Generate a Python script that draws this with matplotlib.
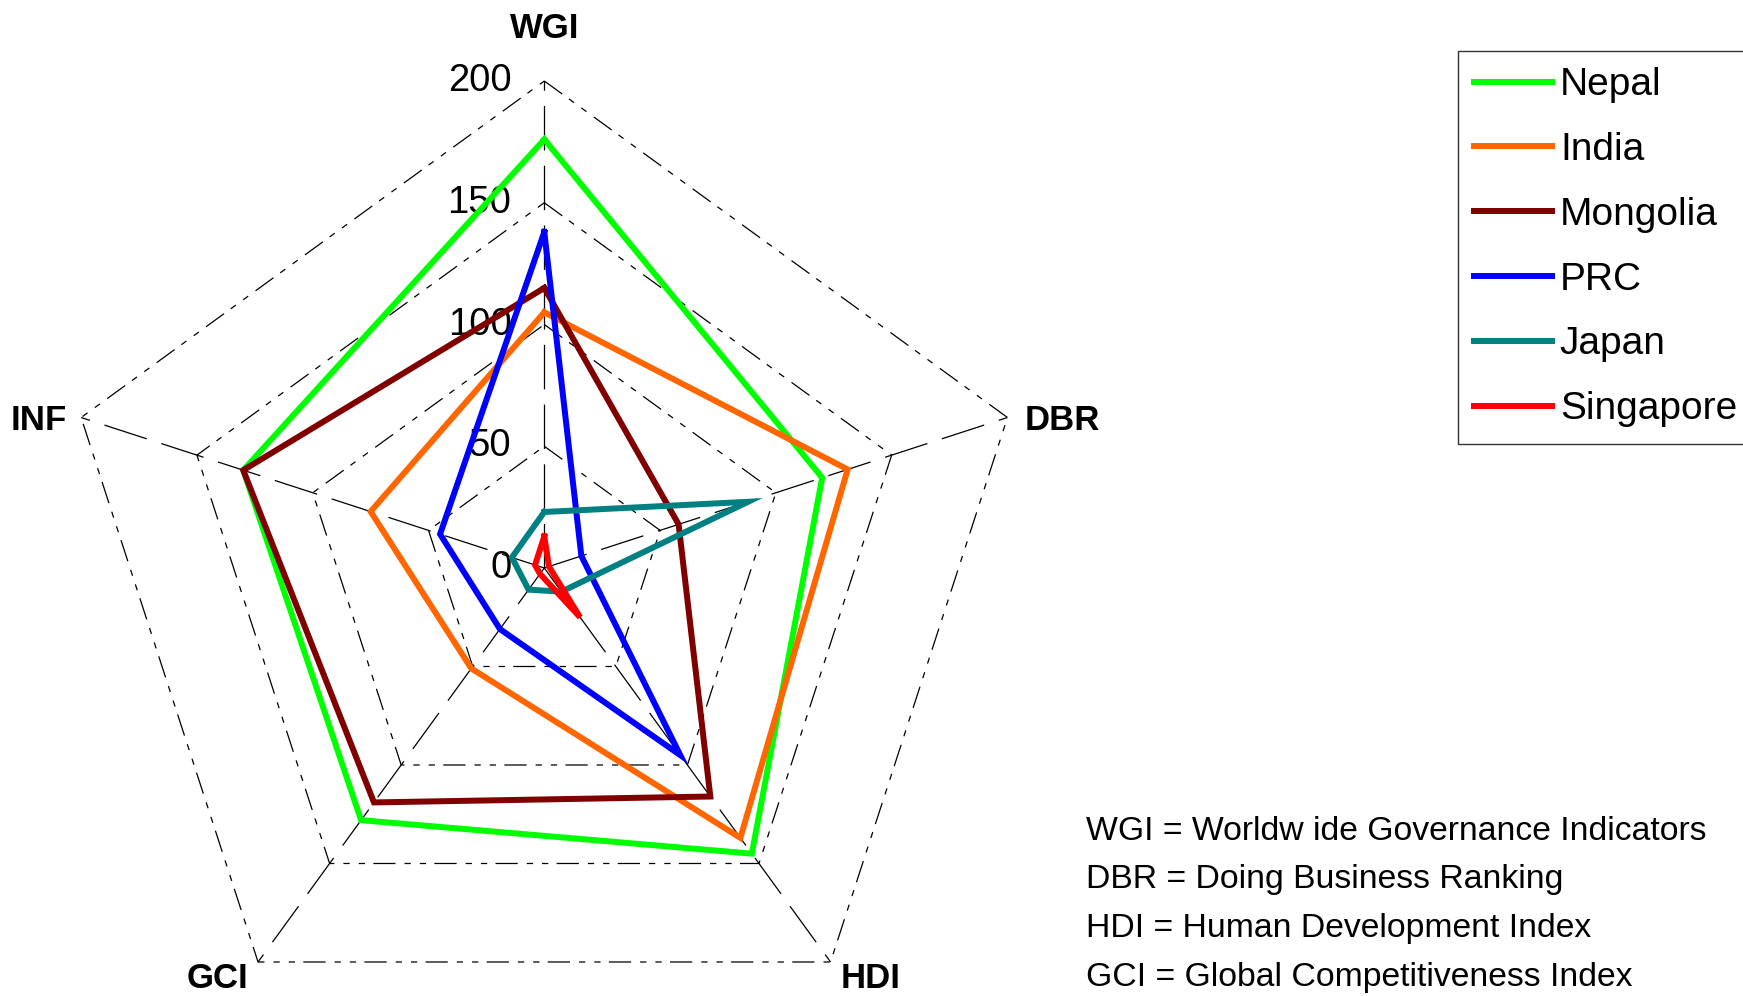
import numpy as np
import matplotlib
matplotlib.use("Agg")
import matplotlib.pyplot as plt
from matplotlib.lines import Line2D

plt.rcParams['font.family'] = ['Liberation Sans', 'DejaVu Sans']
plt.rcParams['lines.scale_dashes'] = False

# data
axes_labels = ['WGI', 'DBR', 'HDI', 'GCI', 'INF']
countries = ['Nepal', 'India', 'Mongolia', 'PRC', 'Japan', 'Singapore']
nepal = [176, 120, 145, 128, 130]
india = [105, 131, 137, 51, 75]
mongolia = [115, 58, 116, 119, 130]
prc = [138, 16, 95, 31, 45]
japan = [23, 88, 12, 11, 14]
singapore = [13, 2, 25, 3, 4]
colors = ['#00ff00', '#ff6600', '#800000', '#0000ff', '#008080', '#ff0000']
rings = [50, 100, 150, 200]
notes = ['WGI = Worldw ide Governance Indicators',
         'DBR = Doing Business Ranking',
         'HDI = Human Development Index',
         'GCI = Global Competitiveness Index']

W, H = 1743, 996
cx, cy = 544.3, 568.0      # centre in pixels
k = 487.0 / 200.0          # pixels per unit

fig = plt.figure(figsize=(W / 100, H / 100), dpi=100)
ax = fig.add_axes([0, 0, 1, 1])
ax.set_xlim(-cx / k, (W - cx) / k)
ax.set_ylim(-(H - cy) / k, cy / k)
ax.axis('off')

ang = np.deg2rad(90 - 72 * np.arange(5))
ux, uy = np.cos(ang), np.sin(ang)

# rings: long dash / short / short
for r in rings:
    ax.plot(np.append(ux, ux[0]) * r, np.append(uy, uy[0]) * r,
            color='black', lw=0.9, ls=(0, (16, 6, 4.5, 6.5, 4.5, 6.5)),
            zorder=1)
# spokes
for i in range(5):
    ax.plot([0, ux[i] * 200], [0, uy[i] * 200], color='black', lw=0.9,
            ls=(0, (32, 11)), zorder=1)

# tick labels
for v in [0] + rings:
    ax.text(-13.5, v, str(v), ha='right', va='center', fontsize=27.5, zorder=2)

# series
series = [nepal, india, mongolia, prc, japan, singapore]
for vals, c, name in zip(series, colors, countries):
    v = np.array(vals, dtype=float)
    ax.plot(np.append(ux * v, ux[0] * v[0]), np.append(uy * v, uy[0] * v[0]),
            color=c, lw=4.3, solid_joinstyle='miter', zorder=3, label=name)

# axis labels
offsets = [(0, 26, 'center', 'bottom'), (12, -2, 'left', 'center'),
           (7, -12, 'left', 'center'), (-7, -12, 'right', 'center'),
           (-10, -2, 'right', 'center')]
for i, lab in enumerate(axes_labels):
    dx, dy, ha, va = offsets[i]
    ax.annotate(lab, (ux[i] * 200, uy[i] * 200), xytext=(dx, dy),
                textcoords='offset points', ha=ha, va=va,
                fontsize=25, fontweight='bold')

# legend
handles = [Line2D([], [], color=c, lw=4.3) for c in colors]
leg = fig.legend(handles, countries, loc='upper left',
                 bbox_to_anchor=(1458 / W, 1 - 51 / H), fontsize=28,
                 frameon=True, fancybox=False, edgecolor='black',
                 handlelength=2.0, handletextpad=0.2, labelspacing=0.74,
                 borderpad=0.42, borderaxespad=0)
leg.get_frame().set_linewidth(1.0)

# notes
for j, t in enumerate(notes):
    fig.text(1086 / W, 1 - (831 + 48.7 * j) / H, t, ha='left', va='center',
             fontsize=24.3)

fig.savefig('out.png', dpi=100)
